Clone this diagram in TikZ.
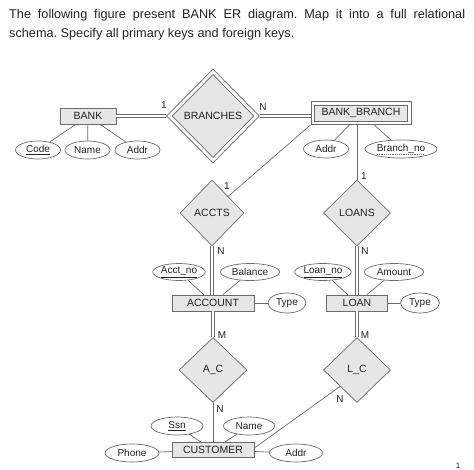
\documentclass[tikz,border=0pt]{standalone}
\usepackage{fontspec}
\setmainfont{Liberation Sans}
\usetikzlibrary{shapes.geometric}
\definecolor{lc}{HTML}{6A6A6A}
\definecolor{gfill}{HTML}{E6E6E6}
\definecolor{tc}{HTML}{222222}
\frenchspacing
\begin{document}
\begin{tikzpicture}[x=1pt,y=-1pt,
  every node/.style={text=tc},
  ent/.style={rectangle,draw=lc,fill=gfill,line width=0.7pt,minimum height=16pt,inner sep=1pt,font=\fontsize{10.5}{12}\selectfont},
  attr/.style={ellipse,draw=lc,line width=0.7pt,minimum height=18pt,inner sep=0.5pt,font=\fontsize{10}{12}\selectfont},
  rel/.style={diamond,draw=lc,fill=gfill,line width=0.7pt,inner sep=0pt,font=\fontsize{10.5}{12}\selectfont},
  card/.style={inner sep=0.5pt,font=\fontsize{10}{12}\selectfont},
  ln/.style={draw=lc,line width=0.7pt},
  dbl/.style={draw=lc,line width=0.8pt,double=white,double distance=1.6pt}
]
\useasboundingbox (0,0) rectangle (474,469);
% heading
\node[anchor=base west,inner sep=0pt,font=\fontsize{12.7}{15}\selectfont] (h1) at (9,18)
  {\makebox[456pt][s]{The following figure present BANK ER diagram. Map it into a full relational}};
\node[anchor=base west,inner sep=0pt,font=\fontsize{12.7}{15}\selectfont] (h2) at (9,37)
  {schema. Specify all primary keys and foreign keys.};

% entities
\node[ent,minimum width=56pt] (bank) at (88,116) {BANK};
\node[ent,fill=white,minimum width=100pt,minimum height=23pt] (bb) at (361,113) {};
\node[ent,minimum width=93pt,minimum height=16pt] (bbi) at (361,113) {BANK\_BRANCH};
\node[ent,minimum width=82pt] (acc) at (213,303) {ACCOUNT};
\node[ent,minimum width=61pt] (loan) at (357,303) {LOAN};
\node[ent,minimum width=82pt,minimum height=15pt] (cust) at (213,450) {CUSTOMER};

% relationships
\node[rel,fill=white,minimum width=93pt,minimum height=94pt] (br) at (213,116) {};
\node[rel,minimum width=82pt,minimum height=83pt] (bri) at (213,116) {BRANCHES};
\node[rel,minimum width=64pt,minimum height=66pt] (accts) at (212,213) {ACCTS};
\node[rel,minimum width=67pt,minimum height=66pt] (loans) at (357,213) {LOANS};
\node[rel,minimum width=68pt,minimum height=65pt] (ac) at (213,370) {A\_C};
\node[rel,minimum width=67pt,minimum height=65pt] (lc) at (357,370) {L\_C};

% attributes
\node[attr,minimum width=45pt] (code) at (38,150) {\underline{Code}};
\node[attr,minimum width=45pt] (bname) at (87.5,150) {Name};
\node[attr,minimum width=45pt] (baddr) at (137.5,150) {Addr};
\node[attr,minimum width=45pt] (bbaddr) at (326,149) {Addr};
\node[attr,minimum width=72pt] (bno) at (401,149) {Branch\_no};
\node[attr,minimum width=52pt,minimum height=17pt] (ano) at (179,272) {\underline{Acct\_no}};
\node[attr,minimum width=59pt,minimum height=17pt] (bal) at (250,272) {Balance};
\node[attr,minimum width=38pt,minimum height=20pt] (atype) at (287,303) {Type};
\node[attr,minimum width=52pt,minimum height=17pt] (lno) at (323,272) {\underline{Loan\_no}};
\node[attr,minimum width=59pt,minimum height=17pt] (amt) at (394,272) {Amount};
\node[attr,minimum width=39pt,minimum height=20pt] (ltype) at (420,303) {Type};
\node[attr,minimum width=52pt] (ssn) at (177,426) {\underline{Ssn}};
\node[attr,minimum width=51pt] (cname) at (249,426) {Name};
\node[attr,minimum width=54pt] (phone) at (132,453) {Phone};
\node[attr,minimum width=53pt] (caddr) at (296,453) {Addr};
% partial key (dashed underline)
\draw[draw=lc,line width=0.5pt,dash pattern=on 1.2pt off 1pt]
  ([xshift=-24pt,yshift=-5.5pt]bno.center) -- ([xshift=24pt,yshift=-5.5pt]bno.center);

% attribute links
\draw[ln] (bank) -- (code);
\draw[ln] (bank) -- (bname);
\draw[ln] (bank) -- (baddr);
\draw[ln] (bb) -- (bbaddr);
\draw[ln] (bb) -- (bno);
\draw[ln] (acc) -- (ano);
\draw[ln] (acc) -- (bal);
\draw[ln] (acc) -- (atype);
\draw[ln] (loan) -- (lno);
\draw[ln] (loan) -- (amt);
\draw[ln] (loan) -- (ltype);
\draw[ln] (cust) -- (ssn);
\draw[ln] (cust) -- (cname);
\draw[ln] (cust) -- (phone);
\draw[ln] (cust) -- (caddr);

% relationship links
\draw[dbl] (bank.east) -- (bank.east -| br.west);
\draw[dbl] (br.east) -- (br.east -| bb.west);
\draw[ln] (bb.south -| loans.north) -- (loans.north);
\draw[ln] (bb.south west) -- (accts.north east);
\draw[dbl] (accts.south) -- (accts.south |- acc.north);
\draw[dbl] (loans.south) -- (loans.south |- loan.north);
\draw[dbl] (acc.south -| ac.north) -- (ac.north);
\draw[dbl] (loan.south -| lc.north) -- (lc.north);
\draw[ln] (ac.south) -- (ac.south |- cust.north);
\draw[ln] (lc.south west) -- ([yshift=2pt]cust.east);

% cardinalities
\node[card] (c1) at (164,105) {1};
\node[card] (c2) at (263,107) {N};
\node[card] (c3) at (227,186) {1};
\node[card] (c4) at (364,176) {1};
\node[card] (c5) at (221,251) {N};
\node[card] (c6) at (365,251) {N};
\node[card] (c7) at (222,335) {M};
\node[card] (c8) at (365,335) {M};
\node[card] (c9) at (220,409) {N};
\node[card] (c10) at (340,399) {N};
\node[card,anchor=south,font=\fontsize{8}{9}\selectfont] (pg) at (458,469) {1};
\end{tikzpicture}
\end{document}
